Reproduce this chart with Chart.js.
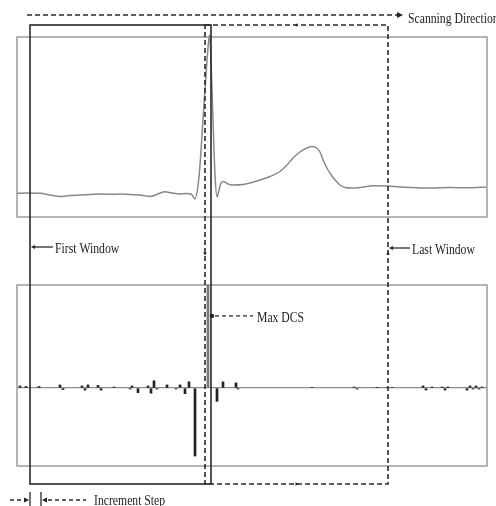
<!DOCTYPE html>
<html>
<head>
<meta charset="utf-8">
<script src="https://cdn.jsdelivr.net/npm/chart.js@4/dist/chart.umd.min.js"></script>
<style>
  html, body { margin: 0; padding: 0; background: #fff; }
</style>
</head>
<body>
<canvas id="c" width="496" height="506"></canvas>
<script>
// ----------------------
// Data
// ----------------------
// ECG trace: sample index / amplitude
const ecgX = [0, 11, 23, 33, 43, 53, 63, 73, 83, 93, 103, 113, 123, 133, 141, 148, 155, 163, 169, 174,
  178, 181, 183, 186, 189, 191, 192.5, 194, 196, 198, 200, 202, 204, 206.5, 211, 216, 226, 235, 243, 253,
  263, 270, 276, 283, 290, 295, 299, 303, 307, 311, 315, 319, 323, 328, 335, 343, 356, 370, 383, 393,
  413, 433, 453, 469];
const ecgY = [-0.013, -0.01, -0.013, -0.03, -0.045, -0.035, -0.03, -0.025, -0.02, -0.023, -0.02, -0.025, -0.03, -0.045, -0.02, 0.003, -0.01, -0.02, -0.015, -0.02,
  -0.07, 0.06, 0.27, 0.72, 1.17, 1.44, 1.57, 1.32, 0.72, 0.17, -0.05, 0.02, 0.09, 0.105, 0.08, 0.07, 0.075, 0.095, 0.12, 0.155,
  0.205, 0.27, 0.34, 0.40, 0.44, 0.455, 0.445, 0.40, 0.30, 0.22, 0.16, 0.11, 0.07, 0.045, 0.04, 0.045, 0.062, 0.06, 0.05, 0.045,
  0.04, 0.045, 0.042, 0.05];

// DCS value per window position
const dcsX = [3, 9, 22, 43, 46, 65, 68, 71, 81, 84, 97, 113, 115, 121, 131, 134, 137, 140, 150, 159,
  163, 168, 172, 178, 191, 200, 206, 219, 221, 295, 337, 340, 360, 370, 375, 406, 409, 415, 425, 428,
  431, 450, 453, 456, 459, 462, 465];
const dcsY = [0.02, 0.015, 0.015, 0.03, -0.015, 0.02, -0.02, 0.03, 0.025, -0.02, 0.01, -0.01, 0.02, -0.045, 0.02, -0.05, 0.07, -0.01, 0.03, -0.01,
  0.03, -0.055, 0.06, -0.66, 1.0, -0.13, 0.06, 0.05, -0.01, 0.005, 0.01, -0.01, 0.005, 0.005, 0.005, 0.02, -0.02, 0.01, 0.01, -0.02,
  0.01, -0.02, 0.02, -0.01, 0.02, -0.01, 0.01];

// scanning windows (start / end sample)
const firstWindow = [13, 194];
const lastWindow = [188, 371];
const incrementStep = 11;

const maxIdx = dcsY.indexOf(Math.max(...dcsY));

// ----------------------
// Drawing helpers
// ----------------------
const FONT = '15px "Liberation Serif", "Times New Roman", serif';
const INK = "#222";

function label(ctx, text, x, y) {
  ctx.save();
  ctx.translate(x, y);
  ctx.scale(0.78, 1);
  ctx.font = FONT;
  ctx.fillStyle = INK;
  ctx.textBaseline = "alphabetic";
  ctx.fillText(text, 0, 0);
  ctx.restore();
}

function head(ctx, x, y, dx, dy, len = 5, half = 2.5) {
  // filled triangle with tip at (x, y) pointing along (dx, dy)
  ctx.beginPath();
  ctx.moveTo(x, y);
  ctx.lineTo(x - dx * len - dy * half, y - dy * len - dx * half);
  ctx.lineTo(x - dx * len + dy * half, y - dy * len + dx * half);
  ctx.closePath();
  ctx.fill();
}

function seg(ctx, x1, y1, x2, y2, dash) {
  ctx.setLineDash(dash || []);
  ctx.beginPath();
  ctx.moveTo(x1, y1);
  ctx.lineTo(x2, y2);
  ctx.stroke();
  ctx.setLineDash([]);
}

const sketch = {
  id: "sketch",
  beforeDatasetsDraw(chart) {
    const { ctx, scales: { x, yECG, yDCS } } = chart;
    ctx.save();
    ctx.strokeStyle = "#9c9c9c";
    ctx.lineWidth = 1.5;
    ctx.strokeRect(x.left, yECG.top, x.right - x.left, yECG.bottom - yECG.top);
    ctx.strokeRect(x.left, yDCS.top, x.right - x.left, yDCS.bottom - yDCS.top);
    ctx.restore();
  },
  afterDraw(chart) {
    const { ctx, scales: { x, yECG, yDCS } } = chart;
    const top = yECG.top - 12;
    const bottom = yDCS.bottom + 18;
    const f0 = x.getPixelForValue(firstWindow[0]);
    const f1 = x.getPixelForValue(firstWindow[1]);
    const l0 = x.getPixelForValue(lastWindow[0]);
    const l1 = x.getPixelForValue(lastWindow[1]);

    ctx.save();
    ctx.strokeStyle = "#2a2a2a";
    ctx.fillStyle = INK;
    ctx.lineWidth = 1.6;

    // first window (solid)
    ctx.strokeRect(f0, top, f1 - f0, bottom - top);

    // last window (dashed) with direction marks at edge midpoints
    ctx.setLineDash([5, 3]);
    ctx.strokeRect(l0, top, l1 - l0, bottom - top);
    ctx.setLineDash([]);
    const mx = (l0 + l1) / 2, my = (top + bottom) / 2;
    head(ctx, mx - 2, top, -1, 0, 3, 1.8);
    head(ctx, mx + 2, bottom, 1, 0, 3, 1.8);
    head(ctx, l0, my + 1, 0, 1, 3, 1.8);
    head(ctx, l1, my - 3, 0, -1, 3, 1.8);

    // scanning direction
    ctx.lineWidth = 1.3;
    const sy = top - 10;
    seg(ctx, f0 - 3, sy, l1 + 9, sy, [5, 3]);
    head(ctx, l1 + 15, sy, 1, 0, 6, 3);
    label(ctx, "Scanning Direction", l1 + 20, 23);

    // first / last window labels
    const wy = yECG.bottom + 30;
    seg(ctx, f0 + 23, wy, f0 + 4, wy);
    head(ctx, f0 + 1, wy, -1, 0, 4, 2);
    label(ctx, "First Window", f0 + 25, wy + 5.5);
    seg(ctx, l1 + 22, wy + 1, l1 + 4, wy + 1);
    head(ctx, l1 + 1, wy + 1, -1, 0, 4, 2);
    label(ctx, "Last Window", l1 + 24, wy + 6.5);

    // max DCS
    const bx = x.getPixelForValue(dcsX[maxIdx]) + 3;
    const by = yDCS.getPixelForValue(dcsY[maxIdx] * 0.7);
    seg(ctx, bx + 4, by, bx + 42, by, [4, 3]);
    ctx.beginPath();
    ctx.arc(bx + 1, by, 2.2, 0, Math.PI * 2);
    ctx.fill();
    label(ctx, "Max DCS", bx + 46, by + 6);

    // increment step
    const s1 = f0 + incrementStep * (x.right - x.left) / (x.max - x.min);
    const iy = bottom + 16;
    seg(ctx, f0, iy - 8, f0, iy + 8);
    seg(ctx, s1, iy - 8, s1, iy + 8);
    seg(ctx, f0 - 20, iy, f0 - 6, iy, [4, 3]);
    head(ctx, f0 - 1, iy, 1, 0, 5, 2.5);
    head(ctx, s1 + 1, iy, -1, 0, 5, 2.5);
    seg(ctx, s1 + 7, iy, s1 + 45, iy, [4, 3]);
    label(ctx, "Increment Step", s1 + 53, iy + 5);

    ctx.restore();
  }
};

// ----------------------
// Chart
// ----------------------
const hidden = {
  ticks: { display: false },
  border: { display: false },
  afterFit: s => { s.width = 0; }
};

new Chart(document.getElementById("c"), {
  type: "line",
  data: {
    datasets: [
      {
        type: "line",
        data: ecgX.map((v, i) => ({ x: v, y: ecgY[i] })),
        yAxisID: "yECG",
        borderColor: "#888",
        borderWidth: 1.5,
        pointRadius: 0,
        cubicInterpolationMode: "monotone",
        clip: false
      },
      {
        type: "bar",
        data: dcsX.map((v, i) => ({ x: v, y: dcsY[i] })),
        yAxisID: "yDCS",
        backgroundColor: dcsY.map((v, i) => i === maxIdx ? "#777" : "#222"),
        barThickness: 2
      }
    ]
  },
  options: {
    responsive: false,
    animation: false,
    layout: { padding: { left: 17, right: 9, top: 37, bottom: 40 } },
    plugins: { legend: { display: false }, tooltip: { enabled: false } },
    scales: {
      x: { type: "linear", min: 0, max: 470, offset: false, display: false },
      yDCS: {
        ...hidden, type: "linear", position: "left", stack: "v", stackWeight: 181,
        min: -0.757, max: 1.0,
        grid: { color: "#8c8c8c", lineWidth: 1.3, drawTicks: false },
        afterBuildTicks: s => { s.ticks = [{ value: 0 }]; }
      },
      yGap: {
        ...hidden, type: "linear", position: "left", stack: "v", stackWeight: 68,
        min: 0, max: 1, grid: { display: false }
      },
      yECG: {
        ...hidden, type: "linear", position: "left", stack: "v", stackWeight: 180,
        min: -0.25, max: 1.55, grid: { display: false }
      }
    }
  },
  plugins: [sketch]
});
</script>
</body>
</html>
